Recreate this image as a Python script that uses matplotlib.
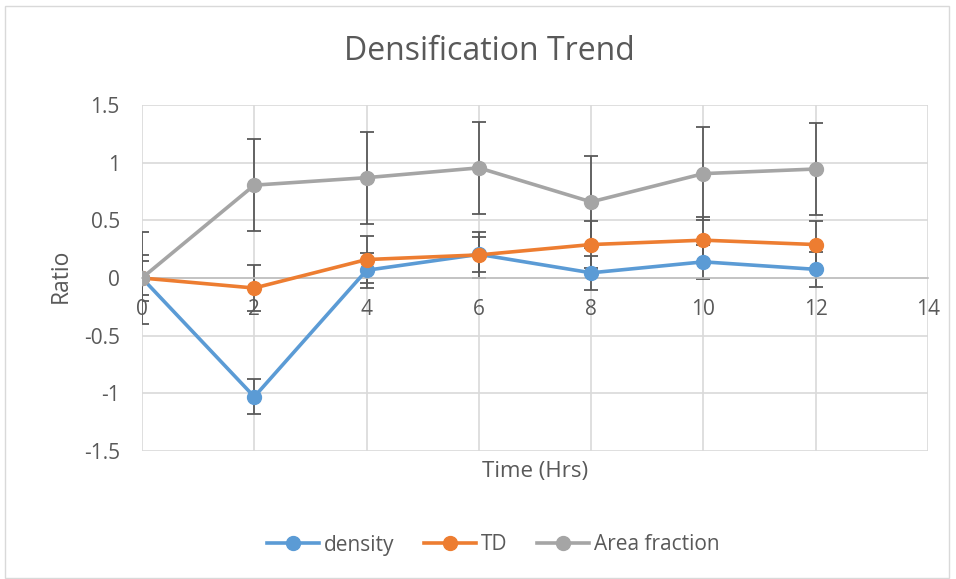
import matplotlib
matplotlib.use("Agg")
import matplotlib.pyplot as plt
from matplotlib.patches import Rectangle

plt.rcParams['font.family'] = ['Open Sans', 'DejaVu Sans']

hours = [0, 2, 4, 6, 8, 10, 12]
density = [0, -1.03, 0.067, 0.205, 0.045, 0.14, 0.075]
td = [0, -0.087, 0.16, 0.2, 0.29, 0.328, 0.29]
area_fraction = [0, 0.805, 0.87, 0.955, 0.66, 0.905, 0.945]
density_err = 0.15
td_err = 0.2
area_err = 0.4

series = [
    ("density", density, density_err, "#5B9BD5"),
    ("TD", td, td_err, "#ED7D31"),
    ("Area fraction", area_fraction, area_err, "#A5A5A5"),
]

text_color = "#595959"
grid_color = "#D9D9D9"

fig = plt.figure(figsize=(9.56, 5.79), dpi=100)
fig.patches.append(Rectangle((5 / 956, 1 / 579), 944 / 956, 572 / 579,
                             transform=fig.transFigure, fill=False,
                             edgecolor=grid_color, linewidth=1.0))

ax = fig.add_axes([142 / 956, 1 - 451 / 579, 786 / 956, 346 / 579])
ax.set_xlim(0, 14)
ax.set_ylim(-1.5, 1.5)
ax.set_xticks(range(0, 15, 2))
ax.set_yticks([-1.5, -1, -0.5, 0, 0.5, 1, 1.5])
ax.set_yticklabels(["-1.5", "-1", "-0.5", "0", "0.5", "1", "1.5"])

ax.grid(True, color=grid_color, linewidth=1.2)
ax.set_axisbelow(True)
for side in ("top", "right", "left"):
    ax.spines[side].set_visible(False)
ax.spines["bottom"].set_position(("data", 0))
ax.spines["bottom"].set_color("#BFBFBF")
ax.spines["bottom"].set_linewidth(1.2)
ax.tick_params(axis="both", length=0, labelsize=15, colors=text_color)
ax.tick_params(axis="x", pad=15)
ax.tick_params(axis="y", pad=16)

handles = []
for name, vals, err, color in series:
    ax.errorbar(hours, vals, yerr=err, fmt="none", ecolor="#595959",
                elinewidth=1.3, capsize=5, capthick=1.3, zorder=2)
for name, vals, err, color in series:
    h, = ax.plot(hours, vals, color=color, linewidth=2.6, marker="o",
                 markersize=10, label=name, zorder=3)
    handles.append(h)

fig.text(489 / 956, 1 - 52 / 579, "Densification Trend", ha="center",
         va="center", fontsize=23, color=text_color)
fig.text(535 / 956, 1 - 471 / 579, "Time (Hrs)", ha="center", va="center",
         fontsize=16, color=text_color)
fig.text(61 / 956, 1 - 276 / 579, "Ratio", ha="center", va="center",
         rotation=90, fontsize=16.5, color=text_color)

fig.legend(handles=handles, loc="center", bbox_to_anchor=(493 / 956, 1 - 545 / 579),
           ncol=3, frameon=False, fontsize=15, labelcolor=text_color,
           handlelength=2.5, handletextpad=0.25, columnspacing=1.4)

fig.savefig("out.png", dpi=100)
